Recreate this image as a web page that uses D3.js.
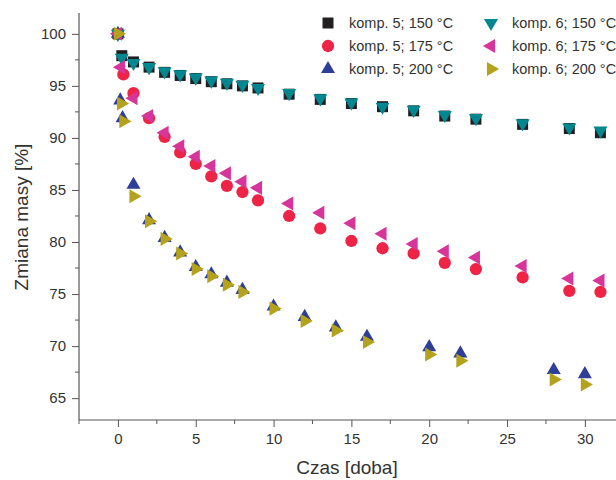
<!DOCTYPE html>
<html>
<head>
<meta charset="utf-8">
<script src="https://cdn.jsdelivr.net/npm/d3@7"></script>
<style>
  body { margin: 0; background: #fff; }
  text { font-family: "Liberation Sans", Arial, sans-serif; fill: #333; }
</style>
</head>
<body>
<svg width="616" height="480"></svg>
<script>
// czas [doba] i zmiana masy [%]
const k5_150_x = [0, 0.25, 1, 2, 3, 4, 5, 6, 7, 8, 9, 11, 13, 15, 17, 19, 21, 23, 26, 29, 31];
const k5_150_y = [100, 97.9, 97.3, 96.8, 96.3, 96.0, 95.7, 95.4, 95.2, 95.0, 94.8, 94.2, 93.7, 93.3, 93.0, 92.6, 92.1, 91.8, 91.3, 90.9, 90.5];
const k6_150_x = [0, 0.25, 1, 2, 3, 4, 5, 6, 7, 8, 9, 11, 13, 15, 17, 19, 21, 23, 26, 29, 31];
const k6_150_y = [100, 97.7, 97.2, 96.8, 96.4, 96.1, 95.8, 95.5, 95.3, 95.1, 94.8, 94.3, 93.8, 93.4, 93.0, 92.7, 92.2, 91.9, 91.4, 91.0, 90.7];
const k5_175_x = [0, 0.35, 1, 2, 3, 4, 5, 6, 7, 8, 9, 11, 13, 15, 17, 19, 21, 23, 26, 29, 31];
const k5_175_y = [100, 96.1, 94.3, 91.9, 90.1, 88.6, 87.5, 86.3, 85.4, 84.8, 84.0, 82.5, 81.3, 80.1, 79.4, 78.9, 78.0, 77.4, 76.6, 75.3, 75.2];
const k6_175_x = [0, 0.2, 1, 2, 3, 4, 5, 6, 7, 8, 9, 11, 13, 15, 17, 19, 21, 23, 26, 29, 31];
const k6_175_y = [100, 96.8, 93.8, 92.1, 90.5, 89.2, 88.2, 87.3, 86.6, 85.8, 85.2, 83.7, 82.8, 81.8, 80.8, 79.8, 79.1, 78.5, 77.7, 76.5, 76.3];
const k5_200_x = [0, 0.15, 0.3, 1, 2, 3, 4, 5, 6, 7, 8, 10, 12, 14, 16, 20, 22, 28, 30];
const k5_200_y = [100, 93.6, 91.9, 85.5, 82.1, 80.4, 79.0, 77.6, 76.9, 76.1, 75.4, 73.8, 72.8, 71.8, 70.9, 69.9, 69.3, 67.7, 67.3];
const k6_200_x = [0, 0.2, 0.35, 1, 2, 3, 4, 5, 6, 7, 8, 10, 12, 14, 16, 20, 22, 28, 30];
const k6_200_y = [100, 93.3, 91.6, 84.4, 82.0, 80.3, 78.9, 77.4, 76.7, 75.9, 75.2, 73.6, 72.4, 71.5, 70.4, 69.2, 68.6, 66.8, 66.3];

const xTicks = [0, 5, 10, 15, 20, 25, 30];
const yTicks = [65, 70, 75, 80, 85, 90, 95, 100];

const seriesNames = ["komp. 5; 150 °C", "komp. 5; 175 °C", "komp. 5; 200 °C",
                     "komp. 6; 150 °C", "komp. 6; 175 °C", "komp. 6; 200 °C"];
const seriesX = [k5_150_x, k5_175_x, k5_200_x, k6_150_x, k6_175_x, k6_200_x];
const seriesY = [k5_150_y, k5_175_y, k5_200_y, k6_150_y, k6_175_y, k6_200_y];
const colors = ["#231f20", "#ee2346", "#2e3f9a", "#00878f", "#d6359a", "#b5a21c"];

const shapes = [
  { type: d3.symbolSquare, size: 121, rot: 0 },
  { type: d3.symbolCircle, size: 118, rot: 0 },
  { type: d3.symbolTriangle, size: 85, rot: 0 },
  { type: d3.symbolTriangle, size: 85, rot: 180 },
  { type: d3.symbolTriangle, size: 85, rot: -90 },
  { type: d3.symbolTriangle, size: 85, rot: 90 }
];

const svg = d3.select("svg");

const x = d3.scaleLinear().domain([-2.5, 32]).range([79, 616]);
const y = d3.scaleLinear().domain([62.9, 102]).range([420, 13]);

const axisColor = "#555";

// osie
const gx = svg.append("g")
  .attr("transform", "translate(0,420)")
  .call(d3.axisBottom(x).tickValues(xTicks).tickSize(7).tickPadding(6).tickFormat(d3.format("d")));
gx.append("g").selectAll("line")
  .data(xTicks.map(d => d - 2.5).concat([32.5]).filter(d => d >= -2.5 && d <= 32))
  .enter().append("line")
  .attr("x1", d => x(d)).attr("x2", d => x(d))
  .attr("y1", 0).attr("y2", 4)
  .attr("stroke", axisColor);

const gy = svg.append("g")
  .attr("transform", "translate(79,0)")
  .call(d3.axisLeft(y).tickValues(yTicks).tickSize(7).tickPadding(6).tickFormat(d3.format("d")));
gy.append("g").selectAll("line")
  .data(yTicks.map(d => d + 2.5).filter(d => d < 102))
  .enter().append("line")
  .attr("y1", d => y(d)).attr("y2", d => y(d))
  .attr("x1", 0).attr("x2", -4)
  .attr("stroke", axisColor);

[gx, gy].forEach(g => {
  g.select(".domain").attr("stroke", axisColor).attr("stroke-width", 1.2);
  g.selectAll(".tick line").attr("stroke", axisColor);
  g.selectAll(".tick text").style("font-size", "15px").attr("fill", "#333")
    .style("font-family", "'Liberation Sans', Arial, sans-serif");
});
gx.select(".domain").attr("d", "M79,0H616");
gy.select(".domain").attr("d", "M0,13V420");

// tytuły osi
svg.append("text")
  .attr("x", 347).attr("y", 474)
  .attr("text-anchor", "middle")
  .style("font-size", "19px")
  .text("Czas [doba]");

svg.append("text")
  .attr("transform", "translate(28,217) rotate(-90)")
  .attr("text-anchor", "middle")
  .style("font-size", "19px")
  .text("Zmiana masy [%]");

// punkty
seriesNames.forEach((name, i) => {
  const pts = seriesX[i].map((d, j) => ({ x: d, y: seriesY[i][j] }));
  const sym = d3.symbol().type(shapes[i].type).size(shapes[i].size);
  svg.append("g").selectAll("path")
    .data(pts)
    .enter().append("path")
    .attr("d", sym)
    .attr("transform", d => `translate(${x(d.x)},${y(d.y)}) rotate(${shapes[i].rot})`)
    .attr("fill", colors[i]);
});

// legenda
const legend = svg.append("g").attr("class", "legend");
seriesNames.forEach((name, i) => {
  const col = Math.floor(i / 3), row = i % 3;
  const lx = 328 + col * 163, ly = 23 + row * 23;
  const sym = d3.symbol().type(shapes[i].type).size(shapes[i].size);
  legend.append("path")
    .attr("d", sym)
    .attr("transform", `translate(${lx},${ly}) rotate(${shapes[i].rot})`)
    .attr("fill", colors[i]);
  legend.append("text")
    .attr("x", lx + 21).attr("y", ly)
    .attr("dy", "0.35em")
    .style("font-size", "14.5px")
    .text(name);
});
</script>
</body>
</html>
